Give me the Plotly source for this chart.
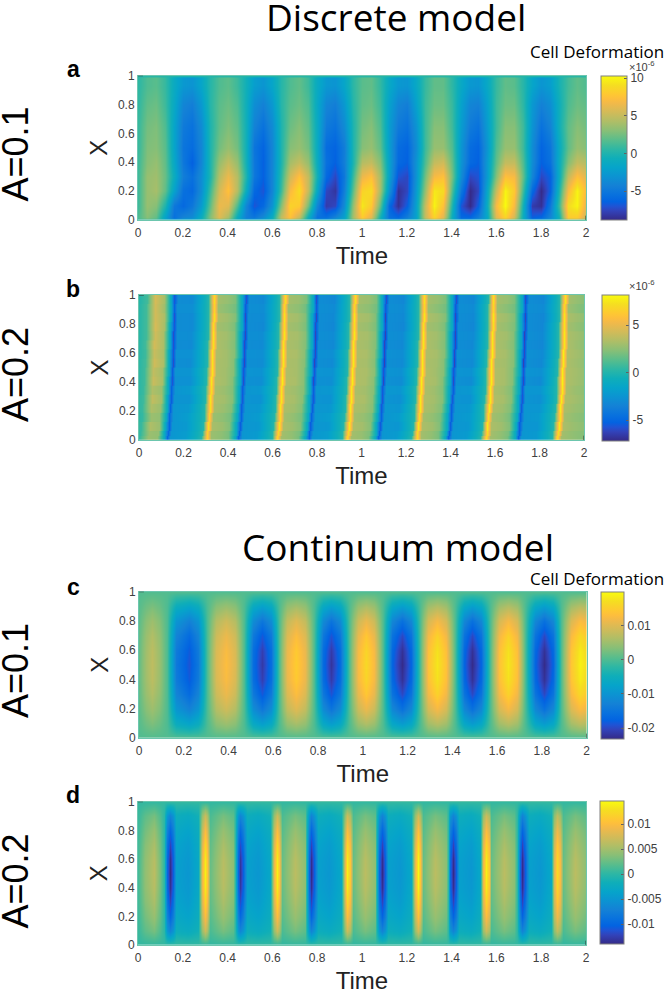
import plotly.graph_objects as go

# parula, sampled from the 64 level table
parula = [
    [0 / 63, "rgb(53,42,135)"], [4 / 63, "rgb(50,67,186)"], [6 / 63, "rgb(32,83,212)"],
    [8 / 63, "rgb(3,99,225)"], [11 / 63, "rgb(8,113,222)"], [15 / 63, "rgb(20,129,214)"],
    [19 / 63, "rgb(12,147,210)"], [23 / 63, "rgb(6,164,202)"], [27 / 63, "rgb(15,174,185)"],
    [31 / 63, "rgb(46,183,164)"], [35 / 63, "rgb(89,189,140)"], [39 / 63, "rgb(135,191,119)"],
    [43 / 63, "rgb(174,190,103)"], [47 / 63, "rgb(209,187,89)"], [51 / 63, "rgb(241,185,74)"],
    [53 / 63, "rgb(253,190,61)"], [55 / 63, "rgb(254,200,50)"], [59 / 63, "rgb(245,222,33)"],
    [63 / 63, "rgb(249,251,14)"],
]

x_ticks = [0, 0.2, 0.4, 0.6, 0.8, 1, 1.2, 1.4, 1.6, 1.8, 2]
x_tick_labels = ["0", "0.2", "0.4", "0.6", "0.8", "1", "1.2", "1.4", "1.6", "1.8", "2"]
y_ticks = [0, 0.2, 0.4, 0.6, 0.8, 1]
y_tick_labels = ["0", "0.2", "0.4", "0.6", "0.8", "1"]

# panel a, units of 1e-6
a_time = [0, .04, .08, .12, .16, .20, .24, .28, .32, .36, .40, .44, .48, .52, .56, .60, .64, .68, .72, .76,
          .80, .84, .88, .92, .96, 1.00, 1.04, 1.08, 1.12, 1.16, 1.20, 1.24, 1.28, 1.32, 1.36, 1.40, 1.44,
          1.48, 1.52, 1.56, 1.60, 1.64, 1.68, 1.72, 1.76, 1.80, 1.84, 1.88, 1.92, 1.96, 2.0]
a_x = [0, .015, .1, .2, .3, .4, .5, .65, .8, .93, .985, 1]
a_edge = [0.2] * 51
a_02 = [1.5, 3, 2, -2, -5.5, -4, -3.5, -1, 3, 6, 4, -1, -4.5, -5, -3.5, -1, 5, 7.5, 5, -1, -5.5, -5.5, -4, -2, 4, 8, 6,
        -0.5, -5.5, -6, -4.5, -2, 5, 8.5, 6, -1, -6, -6, -4.5, -1.5, 6, 8.5, 5.5, -1, -6.5, -6, -4, -0.5, 8, 8, 5]
a_10 = [1, 3.5, 3, 0, -5, -6, -5, -2.5, 2, 6.5, 6, 1.5, -4, -7, -6, -3, 3, 8.5, 8, 2.5, -4, -8, -7.5, -3.5, 3.5, 9.5, 8,
        2, -6, -8.5, -6.5, -2, 5, 10, 7.5, 0, -7, -8.8, -6.5, -1, 7, 10.3, 7, -0.5, -8, -8.5, -5, 1, 9, 10, 6]
a_20 = [1, 3.5, 4, 2, -2, -5.5, -6, -3.5, 1, 5.5, 7.5, 4.5, -1, -6, -7, -4, 1, 7, 9, 5, -1.5, -7.5, -8.3, -4.5, 2, 8.5, 9,
        4, -3, -8.5, -7.5, -2.5, 3.5, 9.5, 9, 1.5, -5, -8.8, -7.5, -1.5, 5, 10, 8, 1, -6, -8.8, -6.5, 0, 7, 10, 7]
a_30 = [1, 3.5, 3.8, 2.2, -1, -4.5, -5.5, -3.5, 0, 4.5, 6.5, 4.5, 0, -5, -6.5, -4, 0.5, 5.5, 7.5, 5, -0.5, -6, -7.5, -5, 1,
        6.5, 7.5, 4, -2, -7, -7.5, -3, 2.5, 7, 7.5, 2.5, -3.5, -7.5, -7, -2.5, 3, 7.5, 7, 2, -4, -7.5, -6.5, -1, 5, 7.5, 6]
a_40 = [1, 3, 3.5, 2, -1.5, -5, -6.5, -4, 0, 3.5, 5, 3.5, -0.5, -5, -6.5, -4, 0, 4, 5, 3.5, -1, -5.5, -6.5, -4.5, 0, 4.5, 5,
        3, -2, -6, -6.5, -3, 1.5, 5, 5.5, 2, -3, -6, -6.5, -2.5, 2, 5, 5, 1.5, -3.5, -6.5, -5.5, -1, 3, 5, 4.5]
a_50 = [0.8, 2.8, 3, 1.8, -1.8, -5.2, -5.8, -4, 0, 2.5, 3.5, 2.5, -0.6, -5.2, -6.3, -4, 0, 3, 3.5, 2.5, -1.2, -5.8, -6.3, -4.6, 0,
        3, 3.5, 2, -2.3, -5.8, -6.3, -3.5, 1, 3.5, 3.5, 1.5, -2.9, -5.8, -6.3, -2.9, 1.5, 3.5, 3.5, 1, -3.5, -6.3, -5.2, -1.2, 2, 3.5, 3]
a_65 = [0.8, 2.5, 2.8, 1.5, -1.8, -4.8, -5.4, -3.6, 0, 2, 2.8, 2, -0.6, -4.2, -5.4, -3.6, 0, 2.3, 3, 2, -1.2, -4.8, -5.4, -3.6, 0,
        2.5, 3, 1.5, -2.4, -4.8, -5.4, -3, 1, 3, 3, 1, -2.4, -4.8, -5.4, -2.4, 1, 3, 3, 1, -3, -5.4, -4.2, -0.6, 2, 3, 2.5]
a_80 = [0.6, 2, 2.3, 1, -1.4, -4, -4.5, -2.7, 0.3, 1.8, 2.3, 1.5, -0.7, -3.4, -4.3, -2.7, 0.3, 1.8, 2.3, 1.5, -1.4, -4, -4.5, -2.7, 0.3,
        2, 2.3, 1, -2, -4, -4.5, -2, 1, 2.3, 2.3, 0.8, -2, -4, -4.3, -2, 1, 2.3, 2.3, 0.5, -2.7, -4.3, -3.4, -0.7, 1.5, 2.3, 2]
a_93 = [0.5, 1.5, 1.8, 0.8, -1.2, -2.7, -3, -1.7, 0.3, 1.5, 1.9, 1, -0.6, -2.3, -2.9, -1.7, 0.3, 1.5, 2, 1, -1.2, -2.7, -3, -1.7, 0.5,
        1.8, 2, 0.7, -1.4, -2.7, -2.9, -1.4, 0.8, 2, 2, 0.5, -1.4, -2.7, -2.9, -1.4, 0.8, 2, 1.8, 0.3, -1.7, -2.9, -2.3, -0.3, 1.2, 2, 1.5]
a_z = [a_edge, a_02, a_10, a_20, a_30, a_40, a_50, a_65, a_80, a_93, a_93, a_edge]

# panel b, units of 1e-6, time read along X=0, the bands lean to the right going up
b_time = [-.04, 0, .04, .08,
          .11, .125, .14, .205, .278, .303, .321, .363, .398,
          .43, .445, .46, .525, .595, .62, .638, .68, .715,
          .747, .762, .777, .842, .91, .935, .953, .995, 1.03,
          1.059, 1.074, 1.089, 1.154, 1.222, 1.247, 1.265, 1.307, 1.342,
          1.374, 1.389, 1.404, 1.469, 1.533, 1.558, 1.576, 1.618, 1.653,
          1.687, 1.702, 1.717, 1.782, 1.854, 1.879, 1.897, 1.939, 1.985, 2.03]
b_band_edges = [0, .03, .0625, .125, .1875, .25, .3125, .375, .4375, .5, .5625, .625, .6875, .75, .8125, .875, .9375, 1]
b_lean = [.001, .004, .008, .012, .015, .018, .02, .022, .024, .026, .027, .029, .03, .031, .032, .033, .034]
b_row_of_band = [0, 0, 1, 0, 1, 2, 1, 3, 2, 4, 3, 5, 4, 6, 5, 7, 6]
b_r0 = [0, 0.5, 2.8, 2.6,
        -1, -5, -2.4, -2, 0, 6.6, 2.8, 2.5, 2,
        -1, -5.2, -2.4, -2.1, 0, 6.9, 3, 2.6, 2,
        -1, -5.2, -2.3, -2, 0, 7, 3, 2.7, 2.1,
        -1, -5.2, -2.4, -2.1, 0, 7, 3, 2.6, 2,
        -1, -5.3, -2.4, -2.1, 0, 7.1, 3, 2.6, 2,
        -1, -5.3, -2.4, -2.2, 0, 7.2, 3, 2.6, 2.3, 2.3]
b_r1 = [0, 0.6, 3.3, 2.8,
        -1.1, -5.2, -2.4, -2.2, 0, 7.2, 3.1, 2.8, 2.2,
        -1.1, -5.4, -2.4, -2.3, 0, 7.4, 3.2, 2.9, 2.3,
        -1.1, -5.4, -2.4, -2.3, 0, 7.5, 3.2, 3, 2.3,
        -1.1, -5.5, -2.3, -2.4, 0, 7.5, 3.2, 2.9, 2.2,
        -1.1, -5.4, -2.4, -2.3, 0, 7.6, 3.2, 2.9, 2.2,
        -1.1, -5.5, -2.4, -2.4, 0, 7.6, 3.2, 2.8, 2.5, 2.5]
b_r2 = [0, 0.7, 3.8, 3,
        -1.2, -5.4, -2.5, -2.5, 0, 7.4, 3.2, 3, 2.3,
        -1.2, -5.6, -2.5, -2.6, 0, 7.5, 3.3, 3.1, 2.4,
        -1.2, -5.6, -2.5, -2.6, 0, 7.6, 3.3, 3.2, 2.4,
        -1.2, -5.7, -2.5, -2.7, 0, 7.6, 3.3, 3, 2.3,
        -1.2, -5.6, -2.5, -2.6, 0, 7.6, 3.3, 3.1, 2.3,
        -1.2, -5.7, -2.5, -2.7, 0, 7.7, 3.3, 3, 2.6, 2.6]
b_r3 = [0, 0.7, 4, 3.1,
        -1.2, -5.7, -2.7, -2.7, 0, 7.5, 3.3, 3, 2.3,
        -1.2, -5.9, -2.7, -2.8, 0, 7.7, 3.3, 3.2, 2.4,
        -1.2, -6, -2.7, -2.8, 0, 7.7, 3.3, 3.2, 2.4,
        -1.2, -6.1, -2.7, -2.9, 0, 7.7, 3.3, 3.1, 2.3,
        -1.2, -6, -2.7, -2.9, 0, 7.7, 3.3, 3.1, 2.3,
        -1.2, -6, -2.7, -3, 0, 7.8, 3.3, 3, 2.6, 2.6]
b_r4 = [0, 0.8, 4.2, 3.2,
        -1.3, -5.9, -2.8, -2.9, 0, 7.4, 3.2, 3, 2.3,
        -1.3, -6.1, -2.8, -2.9, 0, 7.5, 3.2, 3.1, 2.3,
        -1.3, -6.2, -2.8, -3, 0, 7.6, 3.2, 3.1, 2.3,
        -1.3, -6.3, -2.8, -3, 0, 7.6, 3.2, 3, 2.3,
        -1.3, -6.2, -2.8, -3, 0, 7.6, 3.2, 3, 2.3,
        -1.3, -6.3, -2.8, -3.1, 0, 7.6, 3.2, 2.9, 2.5, 2.5]
b_r5 = [0, 0.8, 4.3, 3.2,
        -1.3, -5.8, -2.9, -3, 0, 7.3, 3.2, 2.9, 2.2,
        -1.3, -6, -2.9, -3, 0, 7.4, 3.2, 3, 2.2,
        -1.3, -6.1, -2.9, -3.1, 0, 7.5, 3.2, 3, 2.2,
        -1.3, -6.2, -2.9, -3.1, 0, 7.5, 3.2, 2.9, 2.2,
        -1.3, -6.1, -2.9, -3.1, 0, 7.5, 3.2, 2.9, 2.2,
        -1.3, -6.1, -2.9, -3.2, 0, 7.5, 3.2, 2.8, 2.4, 2.4]
b_r6 = [0, 0.8, 4.4, 3.1,
        -1.2, -5.6, -2.9, -3, 0, 7.1, 3, 2.7, 2.1,
        -1.2, -5.8, -2.9, -3.1, 0, 7.2, 3, 2.8, 2.1,
        -1.2, -5.9, -2.9, -3.2, 0, 7.3, 3, 2.8, 2.1,
        -1.2, -5.9, -2.9, -3.2, 0, 7.3, 3, 2.7, 2.1,
        -1.2, -5.9, -2.9, -3.2, 0, 7.3, 3, 2.7, 2.1,
        -1.2, -5.9, -2.9, -3.2, 0, 7.4, 3, 2.6, 2.2, 2.2]
b_r7 = [0, 0.8, 4.3, 2.9,
        -1.1, -5.2, -2.8, -2.8, 0, 6.8, 2.8, 2.4, 1.9,
        -1.1, -5.4, -2.8, -2.9, 0, 7, 2.8, 2.5, 1.9,
        -1.1, -5.5, -2.8, -3, 0, 7, 2.8, 2.5, 1.9,
        -1.1, -5.5, -2.8, -3, 0, 7, 2.8, 2.4, 1.9,
        -1.1, -5.5, -2.8, -3, 0, 7, 2.8, 2.4, 1.9,
        -1.1, -5.5, -2.8, -3, 0, 7.1, 2.8, 2.3, 2, 2]
b_rows = [b_r0, b_r1, b_r2, b_r3, b_r4, b_r5, b_r6, b_r7]

# panel c, units of 1e-3
c_time = [0, .03, .06, .09, .125, .165, .225, .265, .305, .345, .39, .43, .47, .51, .55, .59, .625, .66, .70, .74, .78,
          .82, .86, .90, .94, .98, 1.015, 1.05, 1.09, 1.13, 1.175, 1.215, 1.255, 1.29, 1.33, 1.37, 1.41, 1.45, 1.49,
          1.53, 1.57, 1.61, 1.65, 1.69, 1.725, 1.77, 1.81, 1.85, 1.885, 1.93, 1.97, 2.0]
c_x = [0, .1, .2, .3, .4, .5, .6, .7, .8, .9, 1]
c_00 = [0.3] * 52
c_10 = [0.6, 2.1, 2.9, 1.9, 0, -5.5, -7.2, -5.5, 0, 3.7, 4.9, 3.7, 0, -6.2, -8.2, -6.2, 0, 4.3, 5.7, 4.3, 0, -6.4, -8.4, -6.4, 0, 4.8, 6.3, 4.8,
        0, -6.6, -8.7, -6.6, 0, 5.2, 6.8, 5.2, 0, -6.6, -8.7, -6.6, 0, 5.2, 6.8, 5.2, 0, -6.6, -8.7, -6.6, 0, 5.5, 7.2, 6.5]
c_20 = [1, 3.7, 5.1, 3.4, 0, -9.8, -12.9, -9.8, 0, 6.7, 8.8, 6.7, 0, -11.1, -14.6, -11.1, 0, 7.8, 10.2, 7.8, 0, -11.4, -15, -11.4, 0, 8.5, 11.2, 8.5,
        0, -11.9, -15.6, -11.9, 0, 9.3, 12.2, 9.3, 0, -11.9, -15.6, -11.9, 0, 9.3, 12.2, 9.3, 0, -11.9, -15.6, -11.9, 0, 9.8, 12.9, 11.6]
c_30 = [1.3, 4.8, 6.5, 4.4, 0, -12.5, -16.5, -12.5, 0, 8.6, 11.3, 8.6, 0, -14.2, -18.7, -14.2, 0, 9.9, 13, 9.9, 0, -14.5, -19.1, -14.5, 0, 10.9,
        14.4, 10.9, 0, -15.2, -20, -15.2, 0, 11.9, 15.7, 11.9, 0, -15.2, -20, -15.2, 0, 11.9, 15.7, 11.9, 0, -15.2, -20, -15.2, 0, 12.5, 16.5, 14.8]
c_40 = [1.5, 5.3, 7.3, 4.9, 0, -14, -18.4, -14, 0, 9.6, 12.6, 9.6, 0, -15.9, -20.9, -15.9, 0, 11.1, 14.6, 11.1, 0, -16.2, -21.3, -16.2, 0, 12.2,
        16, 12.2, 0, -16.9, -22.3, -16.9, 0, 13.3, 17.5, 13.3, 0, -16.9, -22.3, -16.9, 0, 13.3, 17.5, 13.3, 0, -16.9, -22.3, -16.9, 0, 14, 18.4, 16.5]
c_50 = [1.5, 5.5, 7.5, 5, 0, -14.4, -19, -14.4, 0, 9.9, 13, 9.9, 0, -16.3, -21.5, -16.3, 0, 11.4, 15, 11.4, 0, -16.7, -22, -16.7, 0, 12.5, 16.5, 12.5,
        0, -17.5, -23, -17.5, 0, 13.7, 18, 13.7, 0, -17.5, -23, -17.5, 0, 13.7, 18, 13.7, 0, -17.5, -23, -17.5, 0, 14.4, 19, 17]
c_z = [c_00, c_10, c_20, c_30, c_40, c_50, c_40, c_30, c_20, c_10, c_00]

# panel d, units of 1e-3
d_time = [0, .03, .07, .10,
          .118, .131, .143, .155, .171, .223, .270, .286, .298, .310, .323, .378, .425,
          .432, .445, .457, .469, .485, .537, .591, .607, .619, .631, .644, .699, .745,
          .749, .762, .774, .786, .802, .854, .906, .922, .934, .946, .959, 1.014, 1.06,
          1.064, 1.077, 1.089, 1.101, 1.117, 1.169, 1.22, 1.236, 1.248, 1.26, 1.273, 1.328, 1.375,
          1.382, 1.395, 1.407, 1.419, 1.435, 1.487, 1.525, 1.541, 1.553, 1.565, 1.578, 1.633, 1.68,
          1.691, 1.704, 1.716, 1.728, 1.744, 1.796, 1.843, 1.859, 1.871, 1.883, 1.896, 1.951, 2.0]
d_x = [0, .1, .2, .3, .4, .5, .6, .7, .8, .9, 1]
d_00 = [0.3] * 82
d_10 = [0.5, 2.1, 3.1, 1.5,
        0, -5, -7, -5.3, -2, -2.5, -1.5, 4.5, 7, 5.5, 1.3, 3.1, 2,
        0, -5, -6.8, -5.3, -2, -2.5, -1.5, 4.5, 7, 5.5, 1.3, 3.1, 2,
        0, -5, -7, -5.3, -2, -2.5, -1.5, 4.5, 7, 5.5, 1.3, 3.1, 2,
        0, -5, -7, -5.3, -2, -2.5, -1.5, 4.5, 7.3, 5.5, 1.3, 3.1, 2,
        0, -5, -7, -5.3, -2, -2.5, -1.5, 4.5, 7, 5.5, 1.3, 3.1, 2,
        0, -5, -7, -5.3, -2, -2.5, -1.5, 4, 6.3, 4.8, 1.3, 3.1, 2]
d_20 = [0.7, 3, 4.5, 2.2,
        0, -7.2, -10, -7.6, -2.9, -3.6, -2.2, 6.4, 10, 7.9, 1.8, 4.5, 2.9,
        0, -7.2, -9.7, -7.6, -2.9, -3.6, -2.2, 6.4, 10, 7.9, 1.8, 4.5, 2.9,
        0, -7.2, -10, -7.6, -2.9, -3.6, -2.2, 6.4, 10, 7.9, 1.8, 4.5, 2.9,
        0, -7.2, -10, -7.6, -2.9, -3.6, -2.2, 6.4, 10.4, 7.9, 1.8, 4.5, 2.9,
        0, -7.2, -10, -7.6, -2.9, -3.6, -2.2, 6.4, 10, 7.9, 1.8, 4.5, 2.9,
        0, -7.2, -10, -7.6, -2.9, -3.6, -2.2, 5.8, 9, 7, 1.8, 4.5, 2.9]
d_30 = [0.9, 3.7, 5.4, 2.6,
        0, -8.7, -12.2, -9.1, -3.5, -4.4, -2.6, 7.8, 12.2, 9.6, 2.2, 5.4, 3.5,
        0, -8.7, -11.7, -9.1, -3.5, -4.4, -2.6, 7.8, 12.2, 9.6, 2.2, 5.4, 3.5,
        0, -8.7, -12.2, -9.1, -3.5, -4.4, -2.6, 7.8, 12.2, 9.6, 2.2, 5.4, 3.5,
        0, -8.7, -12.2, -9.1, -3.5, -4.4, -2.6, 7.8, 12.6, 9.6, 2.2, 5.4, 3.5,
        0, -8.7, -12.2, -9.1, -3.5, -4.4, -2.6, 7.8, 12.2, 9.6, 2.2, 5.4, 3.5,
        0, -8.7, -12.2, -9.1, -3.5, -4.4, -2.6, 7, 10.9, 8.6, 2.2, 5.4, 3.5]
d_40 = [1, 4.1, 6, 2.9,
        0, -9.7, -13.6, -10.2, -3.9, -4.8, -2.9, 8.7, 13.6, 10.7, 2.4, 6, 3.9,
        0, -9.7, -13.1, -10.2, -3.9, -4.8, -2.9, 8.7, 13.6, 10.7, 2.4, 6, 3.9,
        0, -9.7, -13.6, -10.2, -3.9, -4.8, -2.9, 8.7, 13.6, 10.7, 2.4, 6, 3.9,
        0, -9.7, -13.6, -10.2, -3.9, -4.8, -2.9, 8.7, 14.1, 10.7, 2.4, 6, 3.9,
        0, -9.7, -13.6, -10.2, -3.9, -4.8, -2.9, 8.7, 13.6, 10.7, 2.4, 6, 3.9,
        0, -9.7, -13.6, -10.2, -3.9, -4.8, -2.9, 7.8, 12.1, 9.5, 2.4, 6, 3.9]
d_50 = [1, 4.2, 6.2, 3,
        0, -10, -14, -10.5, -4, -5, -3, 9, 14, 11, 2.5, 6.2, 4,
        0, -10, -13.5, -10.5, -4, -5, -3, 9, 14, 11, 2.5, 6.2, 4,
        0, -10, -14, -10.5, -4, -5, -3, 9, 14, 11, 2.5, 6.2, 4,
        0, -10, -14, -10.5, -4, -5, -3, 9, 14.5, 11, 2.5, 6.2, 4,
        0, -10, -14, -10.5, -4, -5, -3, 9, 14, 11, 2.5, 6.2, 4,
        0, -10, -14, -10.5, -4, -5, -3, 8, 12.5, 9.8, 2.5, 6.2, 4]
d_z = [d_00, d_10, d_20, d_30, d_40, d_50, d_40, d_30, d_20, d_10, d_00]

# colour limits and colorbar labels
a_limits = [-8.85, 10.3]
a_bar_ticks = [-5, 0, 5, 10]
a_bar_labels = ["-5", "0", "5", "10"]
b_limits = [-7.2, 8.16]
b_bar_ticks = [-5, 0, 5]
b_bar_labels = ["-5", "0", "5"]
c_limits = [-23.2, 19.9]
c_bar_ticks = [-20, -10, 0, 10]
c_bar_labels = ["-0.02", "-0.01", "0", "0.01"]
d_limits = [-14, 14.6]
d_bar_ticks = [-10, -5, 0, 5, 10]
d_bar_labels = ["-0.01", "-0.005", "0", "0.005", "0.01"]

W = 664
H = 994
GREY = "#404040"
NUM_FONT = "Liberation Sans"
TITLE_FONT = "Open Sans"

fig = go.Figure()

# left, right, top, bottom of the plot, then left, right, top, bottom of the colorbar, in pixels
boxes = [
    (138, 586, 75.7, 220, 601, 627, 76, 220),
    (139, 584, 295, 440, 602, 629, 295, 441),
    (139, 586.6, 591.7, 738, 601, 624, 592, 739),
    (138, 586, 801.7, 945, 600, 624, 801, 944),
]
limits = [a_limits, b_limits, c_limits, d_limits]
bar_ticks = [a_bar_ticks, b_bar_ticks, c_bar_ticks, d_bar_ticks]
bar_labels = [a_bar_labels, b_bar_labels, c_bar_labels, d_bar_labels]

fig.add_trace(go.Heatmap(x=a_time, y=a_x, z=a_z, zsmooth="best", coloraxis="coloraxis", xaxis="x", yaxis="y"))
for lo, hi, lean, r in zip(b_band_edges[:-1], b_band_edges[1:], b_lean, b_row_of_band):
    # bands overlap a little, the next one up paints over the seam
    fig.add_trace(go.Heatmap(x=[t + lean for t in b_time], y=[lo + (hi - lo) / 4, hi - (hi - lo) / 4 + 0.004],
                             z=[b_rows[r], b_rows[r]], zsmooth="best", coloraxis="coloraxis2", xaxis="x2", yaxis="y2"))
fig.add_trace(go.Heatmap(x=c_time, y=c_x, z=c_z, zsmooth="best", coloraxis="coloraxis3", xaxis="x3", yaxis="y3"))
fig.add_trace(go.Heatmap(x=d_time, y=d_x, z=d_z, zsmooth="best", coloraxis="coloraxis4", xaxis="x4", yaxis="y4"))

layout = dict(width=W, height=H, margin=dict(l=0, r=0, t=0, b=0, autoexpand=False), paper_bgcolor="white", plot_bgcolor="white",
              showlegend=False, font=dict(family=NUM_FONT, color=GREY))
for i, box in enumerate(boxes):
    n = "" if i == 0 else str(i + 1)
    l, r, t, b, bl, br, bt, bb = box
    layout["xaxis" + n] = dict(domain=[l / W, r / W], range=[0, 2], anchor="y" + n, tickvals=x_ticks, ticktext=x_tick_labels,
                               tickangle=0, ticks="", showgrid=False, zeroline=False, showline=True, mirror=True,
                               linecolor="#6cc6ae", linewidth=1, tickfont=dict(size=12, color=GREY), ticklabelstandoff=2,
                               title=dict(text="Time", font=dict(size=24, color="#222222"), standoff=7))
    layout["yaxis" + n] = dict(domain=[1 - b / H, 1 - t / H], range=[0, 1], anchor="x" + n, tickvals=y_ticks, ticktext=y_tick_labels,
                               ticks="", showgrid=False, zeroline=False, showline=True, mirror=True,
                               linecolor="#6cc6ae", linewidth=1, tickfont=dict(size=12, color=GREY),
                               title=dict(text="X", font=dict(size=24, color="#222222"), standoff=3))
    layout["coloraxis" + n] = dict(colorscale=parula, cmin=limits[i][0], cmax=limits[i][1],
                                   colorbar=dict(x=bl / W, xanchor="left", y=1 - bt / H, yanchor="top", len=bb - bt, lenmode="pixels",
                                                 thickness=br - bl, thicknessmode="pixels", xpad=0, ypad=0,
                                                 outlinecolor="#808080", outlinewidth=1, tickvals=bar_ticks[i], ticktext=bar_labels[i],
                                                 ticks="inside", ticklen=3, tickcolor="#606060", tickwidth=1,
                                                 tickfont=dict(size=12, color=GREY)))
fig.update_layout(**layout)

# the short dark ticks that show at the two far corners of each plot
for i in range(4):
    n = "" if i == 0 else str(i + 1)
    fig.add_shape(type="line", xref="x" + n, yref="y" + n, x0=0, x1=0.022, y0=1, y1=1, line=dict(color="#333333", width=1))
    fig.add_shape(type="line", xref="x" + n, yref="y" + n, x0=2, x1=2, y0=0, y1=0.03, line=dict(color="#333333", width=1))


def label(text, x, y, size, family=TITLE_FONT, color="black", bold=False, angle=0):
    if bold:
        text = "<b>" + text + "</b>"
    fig.add_annotation(text=text, x=x / W, y=1 - y / H, xref="paper", yref="paper", xanchor="center", yanchor="middle",
                       showarrow=False, textangle=angle, font=dict(family=family, size=size, color=color))


label("Discrete model", 396, 17, 37)
label("Continuum model", 398, 546, 37)
label("Cell Deformation", 597, 51, 17)
label("Cell Deformation", 597, 578, 17)
label("×10<sup>-6</sup>", 642, 66, 11, family=NUM_FONT, color=GREY)
label("×10<sup>-6</sup>", 642, 285, 11, family=NUM_FONT, color=GREY)
for text, y in [("a", 69), ("b", 289), ("c", 587), ("d", 795)]:
    label(text, 73, y, 23, family=NUM_FONT, bold=True)
for text, y in [("A=0.1", 154.5), ("A=0.2", 375), ("A=0.1", 671), ("A=0.2", 881.5)]:
    label(text, 15, y, 36, family=NUM_FONT, angle=-90)

# drop the page margin so the 664x994 figure fills the window
fig.write_html("out.html", config={"displayModeBar": False}, post_script="document.body.style.margin = '0';")
